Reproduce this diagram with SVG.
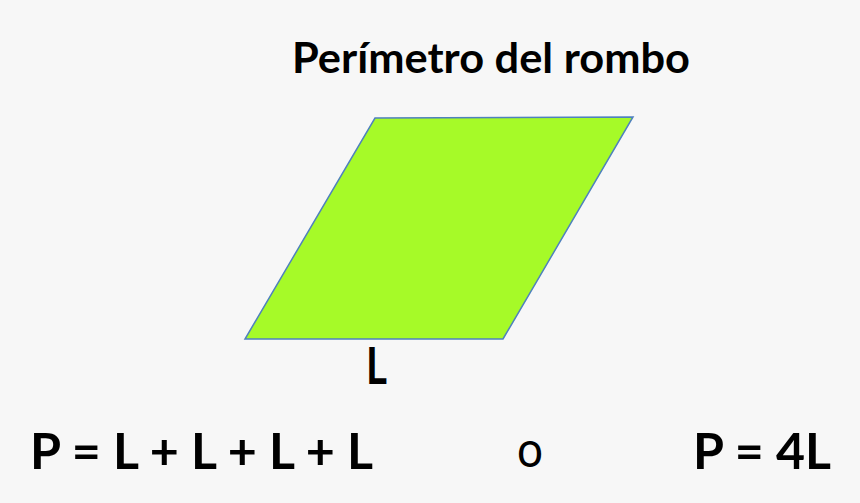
<svg xmlns="http://www.w3.org/2000/svg" width="860" height="503" viewBox="0 0 860 503">
<style>
  text { font-family: Lato, "Open Sans", "Liberation Sans", sans-serif; font-weight: bold; fill: #000; }
  text.thin { font-weight: normal; }
</style>
<rect width="860" height="503" fill="#f7f7f7"/>
<g id="title"><text x="292" y="73" font-size="42" textLength="398" lengthAdjust="spacingAndGlyphs">Perímetro del rombo</text></g>
<g id="rhombus"><polygon points="375,118 633,117 503,339 245,339" fill="#a6fa28" stroke="#4f81bd" stroke-width="1.5"/></g>
<g id="label-L"><text x="366" y="384" font-size="51" textLength="21" lengthAdjust="spacingAndGlyphs">L</text></g>
<g id="formula1"><text x="30" y="469" font-size="50" textLength="343" lengthAdjust="spacingAndGlyphs">P = L + L + L + L</text></g>
<g id="or"><text class="thin" x="517" y="467" font-size="50" textLength="26" lengthAdjust="spacingAndGlyphs">o</text></g>
<g id="formula2"><text x="693" y="469" font-size="50" textLength="138" lengthAdjust="spacingAndGlyphs">P = 4L</text></g>
<g id="connectors"></g>
</svg>
